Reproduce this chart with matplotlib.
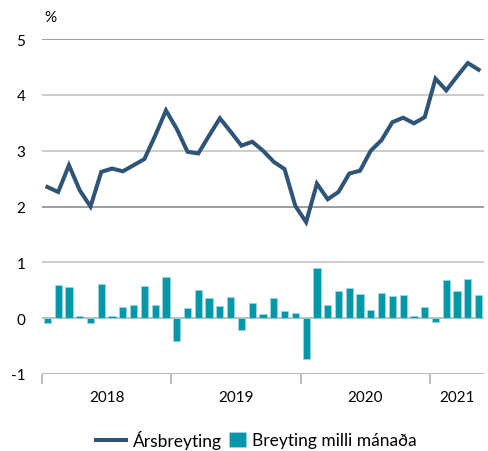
import matplotlib.pyplot as plt
import numpy as np
from matplotlib.lines import Line2D
from matplotlib.patches import Patch

# Monthly data, Jan 2018 - May 2021
years = ["2018", "2019", "2020", "2021"]
months_per_year = [12, 12, 12, 5]

annual_change = [
    2.35, 2.26, 2.74, 2.29, 2.00, 2.62, 2.68, 2.63, 2.74, 2.85, 3.27, 3.72,
    3.39, 2.98, 2.95, 3.27, 3.58, 3.34, 3.09, 3.16, 3.00, 2.80, 2.67, 2.01,
    1.72, 2.41, 2.13, 2.26, 2.59, 2.64, 3.00, 3.19, 3.51, 3.59, 3.49, 3.60,
    4.29, 4.08, 4.33, 4.57, 4.45,
]
monthly_change = [
    -0.09, 0.60, 0.56, 0.04, -0.09, 0.62, 0.04, 0.20, 0.24, 0.57, 0.24, 0.74,
    -0.41, 0.19, 0.51, 0.36, 0.21, 0.38, -0.21, 0.27, 0.08, 0.36, 0.12, 0.10,
    -0.73, 0.90, 0.23, 0.48, 0.54, 0.43, 0.14, 0.45, 0.39, 0.42, 0.04, 0.20,
    -0.06, 0.68, 0.48, 0.70, 0.42,
]

line_color = "#2E5477"
bar_color = "#0098A9"

plt.rcParams["font.family"] = ["Lato", "DejaVu Sans"]

fig = plt.figure(figsize=(4.88, 4.52), dpi=100)
ax = fig.add_axes([42 / 488, 77 / 452, 442 / 488, 335 / 452])

x = np.arange(len(annual_change))
n = len(x)

# gridlines
for v, c in [(5, "#8c8c8c"), (4, "#c4c4c4"), (3, "#c4c4c4"), (2, "#8c8c8c"),
             (1, "#c4c4c4"), (0, "#b0b0b0"), (-1, "#b0b0b0")]:
    ax.axhline(v, color=c, lw=1.2, zorder=1)

ax.bar(x, monthly_change, width=0.67, color=bar_color, edgecolor="#9fd6dc",
       linewidth=0.6, zorder=2)
ax.plot(x, annual_change, color=line_color, lw=2.9, zorder=3,
        solid_joinstyle="miter")

ax.set_xlim(-0.5, n - 0.5)
ax.set_ylim(-1, 5)
ax.set_yticks(range(-1, 6))
ax.set_yticklabels([str(v) for v in range(-1, 6)], fontsize=11)
ax.tick_params(axis="y", length=0, pad=12)

# year boundaries as ticks, year labels centered
bounds = np.concatenate([[0], np.cumsum(months_per_year)]) - 0.5
ax.set_xticks(bounds[:-1])
ax.set_xticklabels([])
ax.tick_params(axis="x", length=7, width=1.2, color="#b0b0b0", direction="out")
for i, yr in enumerate(years):
    mid = (bounds[i] + min(bounds[i + 1], n - 0.5)) / 2
    ax.text(mid, -1.42, yr, ha="center", va="center", fontsize=11)

for s in ax.spines.values():
    s.set_visible(False)

ax.text(-0.3, 5.4, "%", ha="left", va="center", fontsize=11)

# legend: two parts so the line and the square can have different widths
leg_y = 1 - 441 / 452
fig.legend([Line2D([], [], color=line_color, lw=2.9)], ["Ársbreyting"],
           loc="center left", bbox_to_anchor=(96 / 488, leg_y),
           frameon=False, fontsize=12.5, handlelength=1.75,
           handletextpad=0.35, borderpad=0, borderaxespad=0)
fig.legend([Patch(facecolor=bar_color, edgecolor="#9fd6dc", lw=0.6)],
           ["Breyting milli mánaða"], loc="center left",
           bbox_to_anchor=(229 / 488, leg_y), frameon=False, fontsize=12.5,
           handlelength=0.98, handleheight=0.98, handletextpad=0.35,
           borderpad=0, borderaxespad=0)

fig.savefig("out.png", dpi=100)
